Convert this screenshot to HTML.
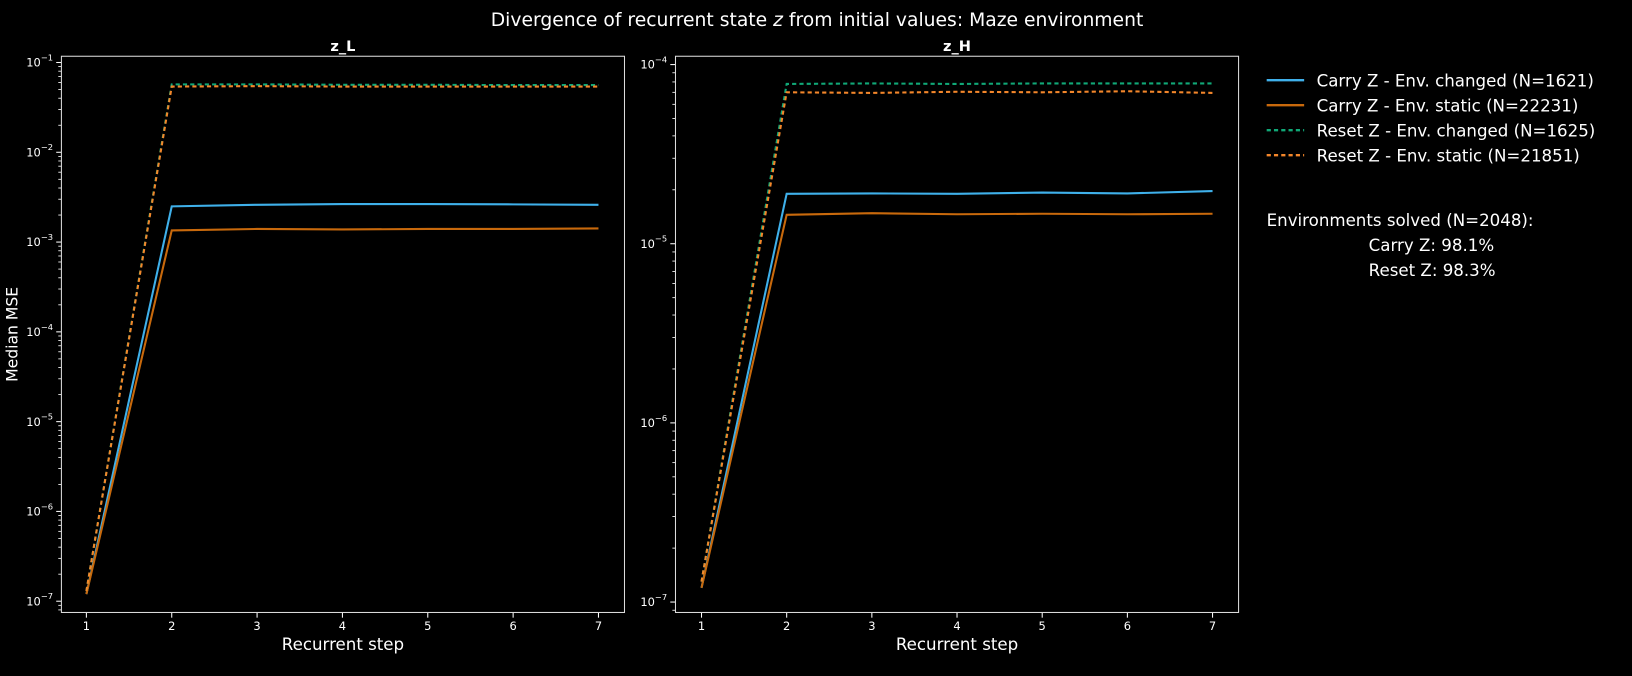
<!DOCTYPE html>
<html><head><meta charset="utf-8"><style>
body{margin:0;background:#000;}
svg{display:block;font-family:"DejaVu Sans","Liberation Sans",sans-serif;}
</style></head><body>
<svg id="chart" width="1632" height="676" viewBox="0 0 1568 649" preserveAspectRatio="none">
<rect width="1568" height="649" fill="#000"/>
<text x="785" y="25" fill="#fff" font-size="18" text-anchor="middle">Divergence of recurrent state <tspan font-style="italic">z</tspan> from initial values: Maze environment</text>
<g id="legend">
 <g><line x1="1217" y1="77" x2="1253" y2="77" stroke="#3fb0ea" stroke-width="2.2"/><text x="1265" y="83" fill="#fff" font-size="16">Carry Z - Env. changed (N=1621)</text></g>
 <g><line x1="1217" y1="101" x2="1253" y2="101" stroke="#c8690c" stroke-width="2.2"/><text x="1265" y="107" fill="#fff" font-size="16">Carry Z - Env. static (N=22231)</text></g>
 <g><line x1="1217" y1="125" x2="1253" y2="125" stroke="#10a877" stroke-width="2.2" stroke-dasharray="4,3"/><text x="1265" y="131" fill="#fff" font-size="16">Reset Z - Env. changed (N=1625)</text></g>
 <g><line x1="1217" y1="149" x2="1253" y2="149" stroke="#f3862a" stroke-width="2.2" stroke-dasharray="4,3"/><text x="1265" y="155" fill="#fff" font-size="16">Reset Z - Env. static (N=21851)</text></g>
</g>
<g fill="#fff" font-size="16">
 <text x="1217" y="217">Environments solved (N=2048):</text>
 <text x="1315" y="241">Carry Z: 98.1%</text>
 <text x="1315" y="265">Reset Z: 98.3%</text>
</g>
<text x="17" y="321" fill="#fff" font-size="15" text-anchor="middle" transform="rotate(-90 17 321)">Median MSE</text>
</svg>
<script>
const steps=[1,2,3,4,5,6,7];
const seriesNames=["carry-changed","carry-static","reset-changed","reset-static"];
const seriesColors=["#3fb0ea","#c8690c","#10a877","#f3862a"];
const leftCarryChanged=[1.2e-7,2.5e-3,2.6e-3,2.65e-3,2.65e-3,2.63e-3,2.6e-3];
const leftCarryStatic=[1.2e-7,1.35e-3,1.4e-3,1.38e-3,1.4e-3,1.4e-3,1.42e-3];
const leftResetChanged=[1.3e-7,5.7e-2,5.7e-2,5.65e-2,5.65e-2,5.6e-2,5.6e-2];
const leftResetStatic=[1.3e-7,5.4e-2,5.45e-2,5.4e-2,5.4e-2,5.4e-2,5.4e-2];
const rightCarryChanged=[1.2e-7,1.9e-5,1.91e-5,1.9e-5,1.93e-5,1.91e-5,1.97e-5];
const rightCarryStatic=[1.2e-7,1.45e-5,1.48e-5,1.46e-5,1.47e-5,1.46e-5,1.47e-5];
const rightResetChanged=[1.3e-7,7.8e-5,7.85e-5,7.8e-5,7.85e-5,7.85e-5,7.85e-5];
const rightResetStatic=[1.3e-7,7.0e-5,6.95e-5,7.05e-5,7.0e-5,7.1e-5,6.95e-5];
const leftDecades=[-7,-6,-5,-4,-3,-2,-1];
const rightDecades=[-7,-6,-5,-4];
const xTicks=[1,2,3,4,5,6,7];

const NS="http://www.w3.org/2000/svg";
const svg=document.getElementById('chart');
function mk(tag,attrs,parent){const e=document.createElementNS(NS,tag);for(const k in attrs)e.setAttribute(k,attrs[k]);(parent||svg).appendChild(e);return e;}

function panel(p){
  const g=mk('g',{});
  
  
  const xs=v=>p.x0+(v-1)*(p.x7-p.x0)/6;
  const ys=v=>p.yTop+(p.topExp-Math.log10(v))*p.dec;
  p.decades.forEach(d=>{
    const y=ys(Math.pow(10,d));
    mk('line',{x1:p.L-5,y1:y,x2:p.L,y2:y,stroke:'#fff','stroke-width':1},g);
    const t=mk('text',{x:p.L-8,y:y+4,fill:'#fff','font-size':11,'text-anchor':'end'},g);
    
    
    t.innerHTML='10<tspan dy="-6" font-size="8">\u2212'+(-d)+'</tspan>';
    for(let m=2;m<10;m++){const yy=ys(m*Math.pow(10,d));if(yy>p.T&&yy<p.B)mk('line',{x1:p.L-3,y1:yy,x2:p.L,y2:yy,stroke:'#fff','stroke-width':0.8},g);}
  });
  for(let m=2;m<10;m++){const yy=ys(m*Math.pow(10,p.decades[0]-1));if(yy>p.T&&yy<p.B)mk('line',{x1:p.L-3,y1:yy,x2:p.L,y2:yy,stroke:'#fff','stroke-width':0.8},g);}
  xTicks.forEach(v=>{
    const x=xs(v);
    mk('line',{x1:x,y1:p.B,x2:x,y2:p.B+5,stroke:'#fff','stroke-width':1},g);
    const t=mk('text',{x:x,y:p.B+17,fill:'#fff','font-size':11,'text-anchor':'middle'},g);
    
    
    t.textContent=v;
  });
  p.series.forEach((vals,i)=>{
    const d=vals.map((v,j)=>(j?'L':'M')+xs(steps[j]).toFixed(1)+','+ys(v).toFixed(1)).join(' ');
    const path=mk('path',{d:d,fill:'none',stroke:seriesColors[i],'stroke-width':2,'stroke-dasharray':i>=2?'4,3':'none'},g);
    
    
  });
  mk('rect',{x:p.L,y:p.T,width:p.R-p.L,height:p.B-p.T,fill:'none',stroke:'#ddd','stroke-width':1},g);
  const tt=mk('text',{x:(p.L+p.R)/2,y:p.T-5,fill:'#fff','font-size':14,'font-weight':'bold','text-anchor':'middle'},g);
  
  
  tt.textContent=p.title;
  const xl=mk('text',{x:(p.L+p.R)/2,y:624,fill:'#fff','font-size':16,'text-anchor':'middle'},g);
  
  
  xl.textContent='Recurrent step';
}
panel({name:'z-l-panel',title:'z_L',L:59,R:600,T:54,B:588,x0:83,x7:575,yTop:60,topExp:-1,dec:86.2,decades:leftDecades,
  series:[leftCarryChanged,leftCarryStatic,leftResetChanged,leftResetStatic]});
panel({name:'z-h-panel',title:'z_H',L:649,R:1190,T:54,B:588,x0:674,x7:1165,yTop:62,topExp:-4,dec:172,decades:rightDecades,
  series:[rightCarryChanged,rightCarryStatic,rightResetChanged,rightResetStatic]});
</script>
</body></html>
